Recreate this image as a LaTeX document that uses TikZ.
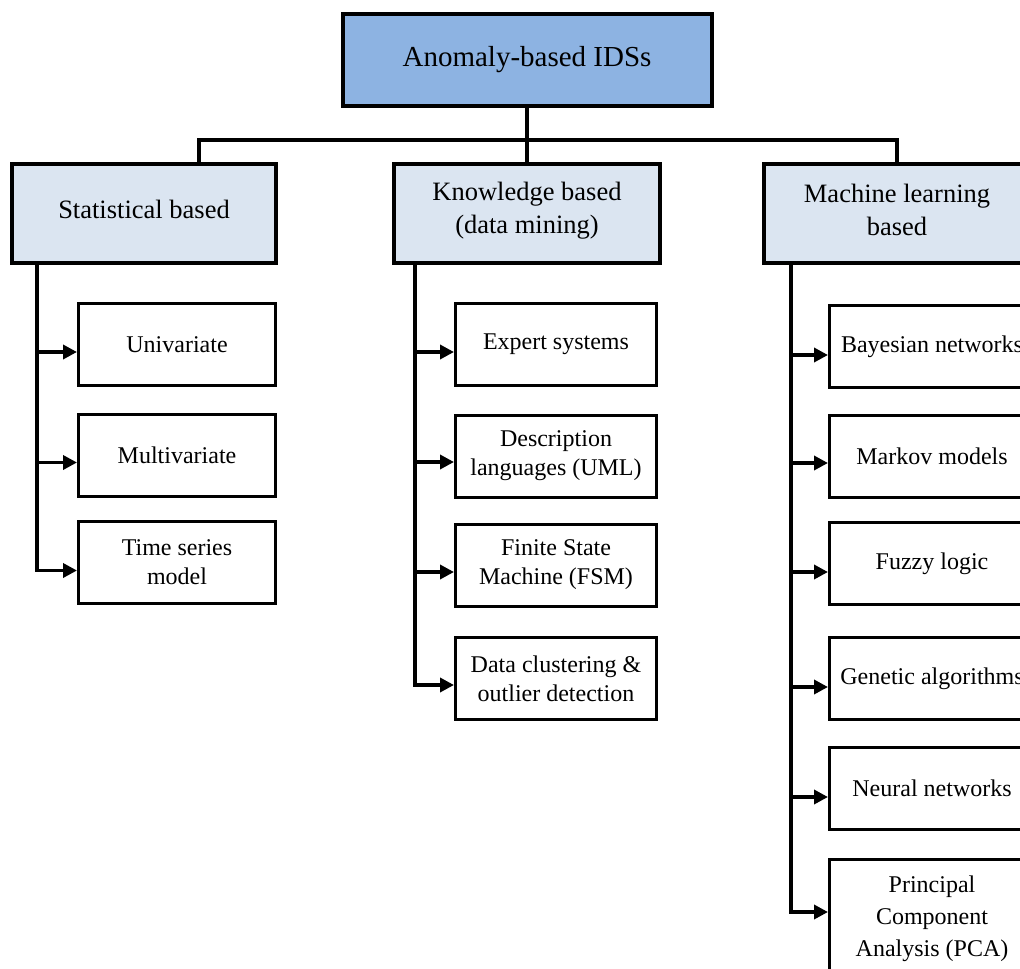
\documentclass[tikz,border=0pt]{standalone}
\usepackage{fontspec}
\setmainfont{Liberation Serif}
\usetikzlibrary{arrows.meta,calc}
\definecolor{rootblue}{HTML}{8DB3E2}
\definecolor{headblue}{HTML}{DBE5F1}
\begin{document}
\begin{tikzpicture}[x=1pt,y=-1pt,
  rootbox/.style={draw, line width=4pt, fill=rootblue, minimum width=369pt, minimum height=92pt, inner sep=2pt, align=center, font=\fontsize{29}{35}\selectfont},
  headbox/.style={draw, line width=4pt, fill=headblue, minimum height=99pt, inner sep=2pt, align=center, font=\fontsize{26.5}{33}\selectfont},
  childbox/.style={draw, line width=3pt, fill=white, minimum height=82pt, inner sep=2pt, align=center, font=\fontsize{24}{29}\selectfont},
  conn/.style={line width=4pt, line join=miter},
  arr/.style={line width=3.5pt, line join=miter, -{Triangle[length=14pt,width=14pt]}}
]
\useasboundingbox (0,0) rectangle (1020,969);
\clip (0,0) rectangle (1020,969);

% root
\node[rootbox] (root) at (527,60) {Anomaly-based IDSs};

% headers
\node[headbox, minimum width=264pt, text depth=8pt] (stat) at (144,213.5) {Statistical based};
\node[headbox, minimum width=266pt, text depth=11pt] (know) at (527,213.5) {Knowledge based\\(data mining)};
\node[headbox, minimum width=266pt, text depth=7pt] (ml) at (897,213.5) {Machine learning\\based};

% statistical children
\node[childbox, minimum width=197pt] (uni) at (177,344.5) {Univariate};
\node[childbox, minimum width=197pt] (multi) at (177,455.5) {Multivariate};
\node[childbox, minimum width=197pt] (tsm) at (177,562.5) {Time series\\model};

% knowledge children
\node[childbox, minimum width=201pt] (exp) at (556,344.5) {Expert systems};
\node[childbox, minimum width=201pt] (desc) at (556,456) {Description\\languages (UML)};
\node[childbox, minimum width=201pt] (fsm) at (556,565) {Finite State\\Machine (FSM)};
\node[childbox, minimum width=201pt] (clus) at (556,678.5) {Data clustering \&\\outlier detection};

% machine learning children
\node[childbox, minimum width=205pt] (bayes) at (932,346.5) {Bayesian networks};
\node[childbox, minimum width=205pt] (markov) at (932,456.5) {Markov models};
\node[childbox, minimum width=205pt] (fuzzy) at (932,563.5) {Fuzzy logic};
\node[childbox, minimum width=205pt] (gen) at (932,678.5) {Genetic algorithms};
\node[childbox, minimum width=205pt] (neur) at (932,788.5) {Neural networks};
\node[childbox, minimum width=205pt, minimum height=119pt, font=\fontsize{24}{32}\selectfont] (pca) at (932,919) {Principal\\Component\\Analysis (PCA)};

% tree connectors
\coordinate (statin) at ([xshift=55pt]stat.north);
\draw[conn] (root.south) -- (know.north);
\draw[conn] (statin) -- ++(0,-22) -| (ml.north);

% trunk x positions
\coordinate (st) at (37,0);
\coordinate (kt) at (415,0);
\coordinate (mt) at (791,0);

% statistical arrows
\draw[arr] ([yshift=-7.5pt]uni.west -| st) -- ([yshift=-7.5pt]uni.west);
\draw[arr] ([yshift=-7pt]multi.west -| st) -- ([yshift=-7pt]multi.west);
\draw[arr] (stat.south -| st) |- ([yshift=-8pt]tsm.west);

% knowledge arrows
\draw[arr] ([yshift=-7.5pt]exp.west -| kt) -- ([yshift=-7.5pt]exp.west);
\draw[arr] ([yshift=-6pt]desc.west -| kt) -- ([yshift=-6pt]desc.west);
\draw[arr] ([yshift=-7pt]fsm.west -| kt) -- ([yshift=-7pt]fsm.west);
\draw[arr] (know.south -| kt) |- ([yshift=-6.5pt]clus.west);

% machine learning arrows
\draw[arr] ([yshift=-8.5pt]bayes.west -| mt) -- ([yshift=-8.5pt]bayes.west);
\draw[arr] ([yshift=-6.5pt]markov.west -| mt) -- ([yshift=-6.5pt]markov.west);
\draw[arr] ([yshift=-8.5pt]fuzzy.west -| mt) -- ([yshift=-8.5pt]fuzzy.west);
\draw[arr] ([yshift=-8.5pt]gen.west -| mt) -- ([yshift=-8.5pt]gen.west);
\draw[arr] ([yshift=-8.5pt]neur.west -| mt) -- ([yshift=-8.5pt]neur.west);
\draw[arr] (ml.south -| mt) |- ([yshift=7pt]pca.west);
\end{tikzpicture}
\end{document}
